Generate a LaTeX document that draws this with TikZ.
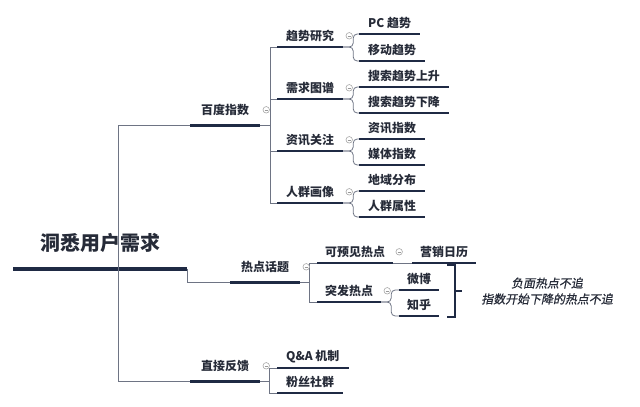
\documentclass[tikz,border=0pt]{standalone}
\usepackage{fontspec}
\setmainfont{Noto Sans CJK SC}
\newfontfamily\notefont[FakeSlant=0.2,FakeBold=0.6]{Noto Sans CJK SC}
\usetikzlibrary{positioning}
\definecolor{ink}{HTML}{262B38}
\definecolor{barcol}{HTML}{1F2A44}
\definecolor{wire}{HTML}{6E7484}
\tikzset{
	every node/.style={text=ink,inner ysep=0pt,font=\bfseries\fontsize{12}{14}\selectfont},
	topic/.style={anchor=south west,inner xsep=9bp,minimum height=22bp,
		append after command={(\tikzlastnode.south west) edge[draw=barcol,line width=#1] (\tikzlastnode.south east)}},
	topic/.default=2bp,
	maintopic/.style={topic=3bp,inner xsep=11bp,minimum height=30bp},
	link/.style={draw=wire,line width=0.8bp},
	fold/.style={circle,draw=gray!70,line width=0.6bp,minimum size=6.5bp,inner sep=0pt,fill=white,
		path picture={\draw[gray!80,line width=0.6bp] ([xshift=-1.6bp]path picture bounding box.center) -- ([xshift=1.6bp]path picture bounding box.center);}},
	note/.style={align=center,font=\notefont\fontsize{12}{16}\selectfont},
}

\begin{document}
\begin{tikzpicture}[x=1bp,y=-1bp]
	\useasboundingbox (0,0) rectangle (640,406);
	
	% root.....................
	\node [topic=3.5bp,inner xsep=0pt,minimum width=174bp,minimum height=52bp,
		font=\bfseries\fontsize{20}{24}\selectfont] (root) at (13,269) {洞悉用户需求};
	\coordinate (fork) at (118,269);
	
	% first level......................
	\node [maintopic] (baidu) at (190,125) {百度指数};
	\node [maintopic] (hot) at (230,282) {热点话题};
	\node [maintopic] (direct) at (190,381) {直接反馈};
	
	% baidu branch...................
	\node [topic] (trend) at (277,47) {趋势研究};
	\node [topic] (demand) at (277,99) {需求图谱};
	\node [topic] (news) at (277,151) {资讯关注};
	\node [topic] (crowd) at (277,203) {人群画像};
	\node [topic] (pc) at (359,34) {PC 趋势};
	\node [topic] (mobile) at (359,61) {移动趋势};
	\node [topic] (rise) at (359,87) {搜索趋势上升};
	\node [topic] (fall) at (359,113) {搜索趋势下降};
	\node [topic] (newsidx) at (359,139) {资讯指数};
	\node [topic] (media) at (359,165) {媒体指数};
	\node [topic] (region) at (359,191) {地域分布};
	\node [topic] (attr) at (359,217) {人群属性};
	
	% hot topic branch....................
	\node [topic,inner xsep=8bp] (foresee) at (317,263) {可预见热点};
	\node [topic,inner xsep=8bp] (sudden) at (317,302) {突发热点};
	\node [topic,inner xsep=8bp] (calendar) at (412,263) {营销日历};
	\node [topic,inner xsep=8bp] (weibo) at (399,290) {微博};
	\node [topic,inner xsep=8bp] (zhihu) at (399,316) {知乎};
	
	% feedback branch...................
	\node [topic] (qa) at (277,368) {Q\&A 机制};
	\node [topic] (fans) at (277,393) {粉丝社群};
	
	% connectors..............................
	\draw [link] (fork) |- (baidu.south west);
	\draw [link] (fork) |- (direct.south west);
	\draw [link] (root.south east) |- (hot.south west);
	\foreach \c in {trend,demand,news,crowd}
		\draw [link] (baidu.south east) -- ++(10,0) |- (\c.south west);
	\foreach \c in {foresee,sudden}
		\draw [link] (hot.south east) -- ++(9,0) |- (\c.south west);
	\foreach \c in {qa,fans}
		\draw [link] (direct.south east) -- ++(9,0) |- (\c.south west);
	\foreach \p/\a/\b in {trend/pc/mobile,demand/rise/fall,news/newsidx/media,crowd/region/attr,sudden/weibo/zhihu} {
		\draw [link,rounded corners=4bp] (\p.south east) -- ++(10,0) |- (\a.south west);
		\draw [link,rounded corners=4bp] (\p.south east) -- ++(10,0) |- (\b.south west);
	}
	\draw [link] (foresee.south east) -- (calendar.south west);
	
	% fold markers.......................
	\foreach \p in {baidu,hot,direct,trend,demand,news,crowd,foresee,sudden}
		\node [fold] (\p-fold) at ([xshift=6bp]\p.east) {};
	
	% bracket and note..............................
	\coordinate (brtop) at (447,265);
	\coordinate (brbot) at (447,317);
	\coordinate (brmid) at (455,291);
	\coordinate (brtip) at (462,291);
	\draw [draw=barcol,line width=2.2bp] (brtop) -- ++(8,0) |- (brbot);
	\draw [draw=barcol,line width=2.2bp] (brmid) -- (brtip);
	\node [note] (note) at (547,291) {负面热点不追\\指数开始下降的热点不追};
\end{tikzpicture}
\end{document}
